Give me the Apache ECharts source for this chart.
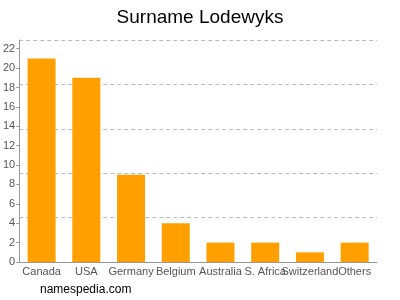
<!DOCTYPE html>
<html><head><meta charset="utf-8">
<script src="https://cdn.jsdelivr.net/npm/echarts@6/dist/echarts.min.js"></script>
<style>html,body{margin:0;padding:0;background:#fff}#c{width:400px;height:300px}</style>
</head><body><div id="c"></div>
<script>
var categories = ["Canada","USA","Germany","Belgium","Australia","S. Africa","Switzerland","Others"];
var values = [21,19,9,4,2,2,1,2];
var yMax = 22.9;
var chart = echarts.init(document.getElementById('c'));
chart.setOption({
  animation:false,
  title:{text:"Surname Lodewyks",left:'center',top:3,textStyle:{fontFamily:'Liberation Sans, Arial',fontSize:19,fontWeight:'normal',color:'#000'}},
  graphic:[{type:'text',left:40,top:284,style:{text:'namespedia.com',fontFamily:'Liberation Sans, Arial',fontSize:12,fill:'#000'}}],
  grid:{left:17,right:23,top:40,bottom:38},
  xAxis:{type:'category',data:categories,
    axisLine:{lineStyle:{color:'#999'}},
    axisTick:{alignWithLabel:true,lineStyle:{color:'#999'}},
    axisLabel:{interval:0,color:'#555',fontFamily:'Liberation Sans, Arial',fontSize:11,margin:4}},
  yAxis:[{type:'value',min:0,max:yMax,interval:2,
    axisLine:{show:true,lineStyle:{color:'#999'}},
    axisTick:{show:true,length:3,lineStyle:{color:'#999'}},
    splitLine:{show:false},
    axisLabel:{color:'#555',fontFamily:'Liberation Sans, Arial',fontSize:11,margin:4,showMaxLabel:false}},
   {type:'value',min:0,max:yMax,interval:yMax/5,position:'left',
    axisLine:{show:false},axisTick:{show:false},axisLabel:{show:false},
    splitLine:{show:true,lineStyle:{color:'#bbb',type:[4,3]}}}],
  series:[{type:'bar',data:values,barWidth:28,itemStyle:{color:'#ffa000'}}]
});
</script></body></html>
